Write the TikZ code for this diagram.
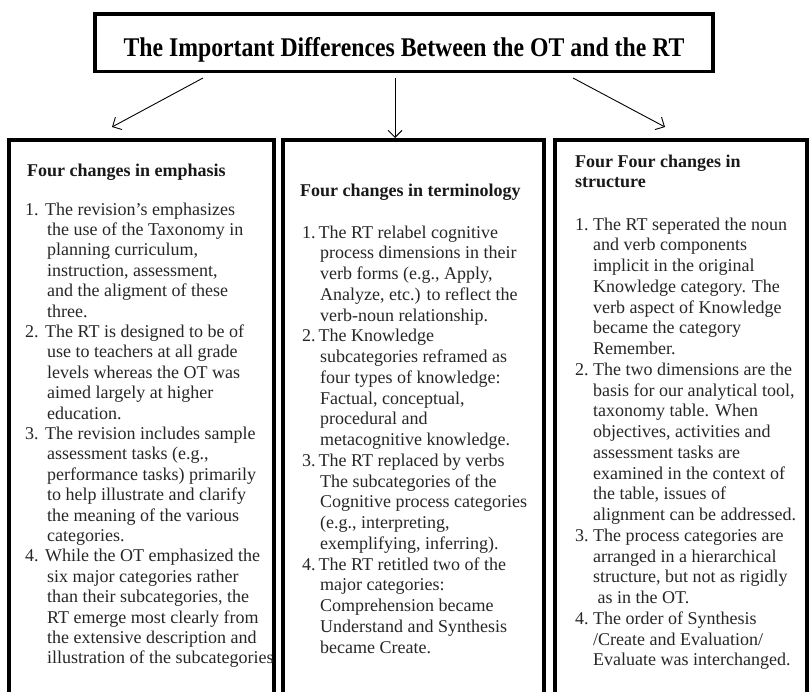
\documentclass[tikz,border=0pt]{standalone}
\usepackage{fontspec}
\setmainfont{Liberation Serif}
\newfontfamily\titlefont{Liberation Serif}[FakeStretch=0.88]
\usetikzlibrary{arrows.meta}
\newcommand{\nA}[1]{\makebox[20pt][l]{#1}}
\newcommand{\cA}{\hspace*{22pt}}
\newcommand{\nB}[1]{\makebox[16.5pt][l]{#1}}
\newcommand{\cB}{\hspace*{18pt}}
\newcommand{\nC}[1]{\makebox[18pt][l]{#1}}
\newcommand{\cC}{\hspace*{18pt}}
\begin{document}
\begin{tikzpicture}[x=1pt,y=-1pt,
  frame/.style={draw, line width=3.2pt, inner sep=0pt},
  conn/.style={-{Straight Barb[length=7pt,width=14pt]}, line width=0.9pt},
  headtxt/.style={anchor=north west, inner sep=0pt, text=black!90,
    font=\fontsize{18}{20}\selectfont\bfseries},
  bodytxt/.style={anchor=north west, inner sep=0pt, text=black!85}]
\useasboundingbox (0,0) rectangle (809,692);
% title
\node[frame, anchor=base, minimum width=618pt, text height=43pt, text depth=14.7pt,
  font=\titlefont\bfseries\fontsize{27}{30}\selectfont] (title) at (404,57)
  {The Important Differences Between the OT and the RT};
% column boxes
\node[frame, minimum width=265pt, minimum height=560pt] (boxA) at (141.5,420) {};
\node[frame, minimum width=261pt, minimum height=560pt] (boxB) at (413.5,420) {};
\node[frame, minimum width=252pt, minimum height=560pt] (boxC) at (681,420) {};
% arrows
\coordinate (sA) at (203,78);
\coordinate (eA) at (112,127);
\coordinate (sB) at (395,78);
\coordinate (eB) at (395,138);
\coordinate (sC) at (573,78);
\coordinate (eC) at (665,127);
\draw[conn] (sA) -- (eA);
\draw[conn] (sB) -- (eB);
\draw[conn] (sC) -- (eC);
% headers
\node[headtxt] (hA) at (27,162.5) {\begin{tabular}{@{}l@{}}Four changes in emphasis\end{tabular}};
\node[headtxt] (hB) at (300,182.5) {\begin{tabular}{@{}l@{}}Four changes in terminology\end{tabular}};
\node[headtxt] (hC) at (575,153) {\begin{tabular}{@{}l@{}}Four Four changes in\\ structure\end{tabular}};
% body A
\node[bodytxt] (tA) at (25,200.7) {\fontsize{18}{20.4}\selectfont
\begin{tabular}{@{}l@{}}
\nA{1.}The revision's emphasizes\\
\cA the use of the Taxonomy in\\
\cA planning curriculum,\\
\cA instruction, assessment,\\
\cA and the aligment of these\\
\cA three.\\
\nA{2.}The RT is designed to be of\\
\cA use to teachers at all grade\\
\cA levels whereas the OT was\\
\cA aimed largely at higher\\
\cA education.\\
\nA{3.}The revision includes sample\\
\cA assessment tasks (e.g.,\\
\cA performance tasks) primarily\\
\cA to help illustrate and clarify\\
\cA the meaning of the various\\
\cA categories.\\
\nA{4.}While the OT emphasized the\\
\cA six major categories rather\\
\cA than their subcategories, the\\
\cA RT emerge most clearly from\\
\cA the extensive description and\\
\cA illustration of the subcategories
\end{tabular}};
% body B
\node[bodytxt] (tB) at (302,223.5) {\fontsize{18}{20.75}\selectfont
\begin{tabular}{@{}l@{}}
\nB{1.}The RT relabel cognitive\\
\cB process dimensions in their\\
\cB verb forms (e.g., Apply,\\
\cB Analyze, etc.) to reflect the\\
\cB verb-noun relationship.\\
\nB{2.}The Knowledge\\
\cB subcategories reframed as\\
\cB four types of knowledge:\\
\cB Factual, conceptual,\\
\cB procedural and\\
\cB metacognitive knowledge.\\
\nB{3.}The RT replaced by verbs\\
\cB The subcategories of the\\
\cB Cognitive process categories\\
\cB (e.g., interpreting,\\
\cB exemplifying, inferring).\\
\nB{4.}The RT retitled two of the\\
\cB major categories:\\
\cB Comprehension became\\
\cB Understand and Synthesis\\
\cB became Create.
\end{tabular}};
% body C
\node[bodytxt] (tC) at (575,215.5) {\fontsize{18}{20.75}\selectfont
\begin{tabular}{@{}l@{}}
\nC{1.}The RT seperated the noun\\
\cC and verb components\\
\cC implicit in the original\\
\cC Knowledge category. The\\
\cC verb aspect of Knowledge\\
\cC became the category\\
\cC Remember.\\
\nC{2.}The two dimensions are the\\
\cC basis for our analytical tool,\\
\cC taxonomy table. When\\
\cC objectives, activities and\\
\cC assessment tasks are\\
\cC examined in the context of\\
\cC the table, issues of\\
\cC alignment can be addressed.\\
\nC{3.}The process categories are\\
\cC arranged in a hierarchical\\
\cC structure, but not as rigidly\\
\cC \ as in the OT.\\
\nC{4.}The order of Synthesis\\
\cC /Create and Evaluation/\\
\cC Evaluate was interchanged.
\end{tabular}};
\end{tikzpicture}
\end{document}
